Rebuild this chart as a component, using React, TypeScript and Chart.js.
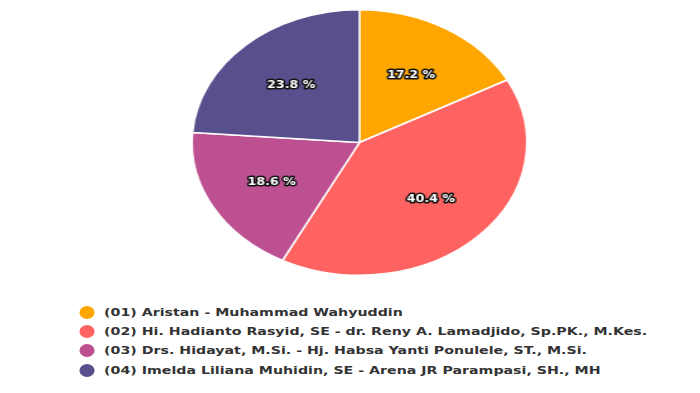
import React, { useEffect, useRef } from "react";
import { Chart, registerables } from "chart.js";

Chart.register(...registerables);

const labels: string[] = [
  "(01) Aristan - Muhammad Wahyuddin",
  "(02) Hi. Hadianto Rasyid, SE - dr. Reny A. Lamadjido, Sp.PK., M.Kes.",
  "(03) Drs. Hidayat, M.Si. - Hj. Habsa Yanti Ponulele, ST., M.Si.",
  "(04) Imelda Liliana Muhidin, SE - Arena JR Parampasi, SH., MH",
];
const values: number[] = [17.2, 40.4, 18.6, 23.8];
const colors: string[] = ["#ffa600", "#ff6361", "#bc5090", "#58508d"];

const SCALE = 700 / 555;

const labelPlugin = {
  id: "pctLabels",
  afterDatasetsDraw(chart: any) {
    const ctx = chart.ctx as CanvasRenderingContext2D;
    const meta = chart.getDatasetMeta(0);
    meta.data.forEach((arc: any, i: number) => {
      const p = arc.getProps(["x", "y", "startAngle", "endAngle", "outerRadius"], true);
      const mid = (p.startAngle + p.endAngle) / 2;
      const r = p.outerRadius * 0.6;
      const px = p.x + Math.cos(mid) * r;
      const py = p.y + Math.sin(mid) * r + 1;
      const t = values[i].toFixed(1) + " %";
      ctx.save();
      ctx.font = "bold 10px 'DejaVu Sans'";
      ctx.textAlign = "center";
      ctx.textBaseline = "middle";
      ctx.lineJoin = "round";
      ctx.lineWidth = 3;
      ctx.strokeStyle = "#111";
      ctx.strokeText(t, px, py);
      ctx.fillStyle = "#fff";
      ctx.fillText(t, px, py);
      ctx.restore();
    });
  },
};

export default function App() {
  const ref = useRef<HTMLCanvasElement | null>(null);
  useEffect(() => {
    const canvas = ref.current;
    if (!canvas) return;
    const chart = new Chart(canvas, {
      type: "pie",
      data: {
        labels,
        datasets: [
          {
            data: values,
            backgroundColor: colors,
            borderColor: "#ffffff",
            borderWidth: 1.5,
          },
        ],
      },
      options: {
        responsive: false,
        animation: false,
        devicePixelRatio: 1,
        layout: { padding: { left: 15, right: 0, top: 9, bottom: 14 } },
        plugins: {
          legend: { display: false },
          tooltip: { enabled: false },
        },
      },
      plugins: [labelPlugin],
    });
    return () => chart.destroy();
  }, []);

  return (
    <div
      style={{
        position: "absolute",
        left: 0,
        top: 0,
        width: 555,
        height: 393,
        transform: `scaleX(${SCALE})`,
        transformOrigin: "0 0",
        background: "#fff",
      }}
    >
      <canvas ref={ref} width={555} height={290} style={{ display: "block" }} />
      <div
        style={{
          position: "absolute",
          left: 63,
          top: 302.5,
          fontFamily: "'DejaVu Sans', sans-serif",
          fontWeight: 700,
          fontSize: 11.25,
          color: "#333",
        }}
      >
        {labels.map((l, i) => (
          <div
            key={i}
            style={{ height: 19.3, display: "flex", alignItems: "center", whiteSpace: "nowrap" }}
          >
            <span
              style={{
                display: "inline-block",
                width: 12,
                height: 13,
                borderRadius: "50%",
                background: colors[i],
                marginRight: 7.5,
                flex: "none",
              }}
            />
            <span>{l}</span>
          </div>
        ))}
      </div>
    </div>
  );
}
